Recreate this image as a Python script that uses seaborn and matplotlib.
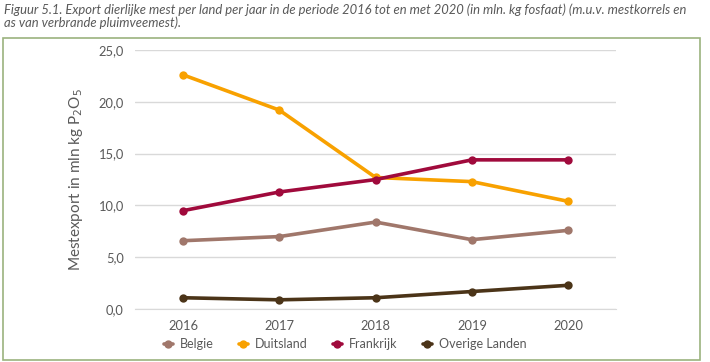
import pandas as pd
import matplotlib.pyplot as plt
import matplotlib.patches as mpatches
from matplotlib.ticker import FuncFormatter
import seaborn as sns

# Data (mln kg P2O5)
jaren = ['2016', '2017', '2018', '2019', '2020']
belgie = [6.6, 7.0, 8.4, 6.7, 7.6]
duitsland = [22.6, 19.2, 12.7, 12.3, 10.4]
frankrijk = [9.5, 11.3, 12.5, 14.4, 14.4]
overige = [1.1, 0.9, 1.1, 1.7, 2.3]

landen = ['Belgie', 'Duitsland', 'Frankrijk', 'Overige Landen']
kleuren = ['#a0776b', '#f8a100', '#a00a3c', '#4b3418']

df = pd.DataFrame({
    'jaar': jaren * 4,
    'land': [l for l in landen for _ in jaren],
    'waarde': belgie + duitsland + frankrijk + overige,
})

sns.set_style('white')
plt.rcParams['font.family'] = ['Lato', 'DejaVu Sans']

fig = plt.figure(figsize=(7.1, 3.62), dpi=100)
ax = fig.add_axes([0.190, 0.146, 0.678, 0.716])

sns.lineplot(data=df, x='jaar', y='waarde', hue='land', palette=kleuren,
             marker='o', markersize=6, markeredgewidth=0, linewidth=2.6,
             ax=ax, sort=False)

ax.set_ylim(0, 25)
ax.set_xlim(-0.5, 4.5)
ax.set_yticks([0, 5, 10, 15, 20, 25])
ax.yaxis.set_major_formatter(FuncFormatter(lambda v, p: f'{v:.1f}'.replace('.', ',')))
ax.grid(axis='y', color='#d9d9d9', linewidth=1)
ax.set_axisbelow(True)
for s in ['top', 'right', 'left']:
    ax.spines[s].set_visible(False)
ax.spines['bottom'].set_color('#d9d9d9')
ax.tick_params(axis='both', length=0, labelsize=9.3, colors='#595959', pad=8)
ax.set_xlabel('')
ax.set_ylabel('Mestexport in mln kg P$_2$O$_5$', fontsize=11, color='#595959', labelpad=10)
for line in ax.lines:
    line.set_clip_on(False)

ax.legend(loc='center', bbox_to_anchor=(0.437, -0.135), ncol=4, frameon=False,
          fontsize=9, labelcolor='#595959', handlelength=0.7, columnspacing=2.0,
          handletextpad=0.6, bbox_transform=ax.transAxes)
leg = ax.get_legend()
for h in leg.legend_handles:
    h.set_linewidth(2.6)

# Caption
fig.text(0.006, 0.972, 'Figuur 5.1. Export dierlijke mest per land per jaar in de periode 2016 tot en met 2020 '
         '(in mln. kg fosfaat) (m.u.v. mestkorrels en', fontsize=9.4, style='italic',
         color='#595959', va='center', ha='left')
fig.text(0.006, 0.936, 'as van verbrande pluimveemest).', fontsize=9.4, style='italic',
         color='#595959', va='center', ha='left')

# Green frame
fig.patches.append(mpatches.Rectangle((0.004, 0.006), 0.982, 0.890, transform=fig.transFigure,
                                      fill=False, edgecolor='#9bb37e', linewidth=1.2))

fig.savefig('out.png', dpi=100)
